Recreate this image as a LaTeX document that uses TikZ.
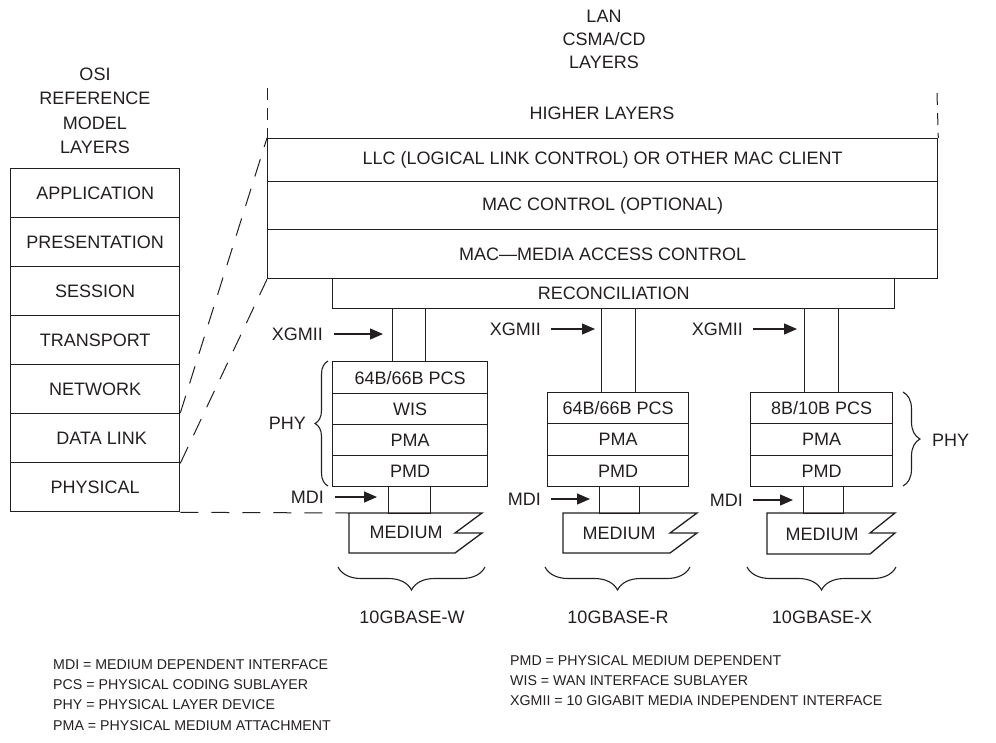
\documentclass[tikz,border=0pt]{standalone}
\usepackage{fontspec}
\setmainfont{Liberation Sans}
\usetikzlibrary{arrows.meta,decorations.pathreplacing}
\definecolor{ink}{HTML}{231F20}
\newcommand\labfont{\fontsize{18}{22}\selectfont}
\newcommand\legfont{\fontsize{14.2}{18}\selectfont}
\begin{document}
\begin{tikzpicture}[x=1pt,y=-1pt,
  box/.style={draw=ink, line width=1.3pt, rectangle, inner sep=0pt, anchor=north west, font=\labfont, text=ink},
  lab/.style={font=\labfont, inner sep=0pt, text=ink},
  leg/.style={font=\legfont, inner sep=0pt, anchor=west, text=ink},
  dsh/.style={draw=ink, line width=1pt, dash pattern=on 18pt off 13pt},
  arr/.style={draw=ink, line width=1.3pt, -{Triangle[length=13pt,width=11pt]}},
  med/.style={draw=ink, line width=1.3pt, line join=miter},
  brc/.style={draw=ink, line width=1.1pt, decorate}
]
\useasboundingbox (0,0) rectangle (996,742);

% OSI title and stack
\node[lab, align=center, font=\fontsize{18}{24.5}\selectfont] (osit) at (95,111) {OSI\\REFERENCE\\MODEL\\LAYERS};
\node[box, minimum width=169pt, minimum height=49pt] (app) at (10,168) {APPLICATION};
\node[box, minimum width=169pt, minimum height=49pt] (pres) at (10,217) {PRESENTATION};
\node[box, minimum width=169pt, minimum height=49pt] (sess) at (10,266) {SESSION};
\node[box, minimum width=169pt, minimum height=49pt] (trans) at (10,315) {TRANSPORT};
\node[box, minimum width=169pt, minimum height=49pt] (net) at (10,364) {NETWORK};
\node[box, minimum width=169pt, minimum height=49pt] (datal) at (10,413) {\hspace*{13pt}DATA LINK};
\node[box, minimum width=169pt, minimum height=49pt] (phys) at (10,462) {PHYSICAL};

% LAN title and stack
\node[lab, align=center, font=\fontsize{18}{23}\selectfont] (lant) at (604,39) {LAN\\CSMA/CD\\LAYERS};
\node[lab] (higher) at (602,113) {HIGHER LAYERS};
\node[box, minimum width=670pt, minimum height=43pt] (llc) at (267,138) {LLC (LOGICAL LINK CONTROL) OR OTHER MAC CLIENT};
\node[box, minimum width=670pt, minimum height=48pt] (macc) at (267,181) {MAC CONTROL (OPTIONAL)};
\node[box, minimum width=670pt, minimum height=49pt] (mac) at (267,229) {MAC—MEDIA ACCESS CONTROL};
\node[box, minimum width=562pt, minimum height=30pt] (rec) at (332,278) {RECONCILIATION};

% XGMII connectors
\node[box, minimum width=33pt, minimum height=53pt] (xc1) at (392,308) {};
\node[box, minimum width=34pt, minimum height=84pt] (xc2) at (601,308) {};
\node[box, minimum width=34pt, minimum height=84pt] (xc3) at (804,308) {};

% PHY stack W
\node[box, minimum width=155pt, minimum height=32pt] (pcsa) at (332,361) {64B/66B PCS};
\node[box, minimum width=155pt, minimum height=31pt] (wis) at (332,393) {WIS};
\node[box, minimum width=155pt, minimum height=31pt] (pmaa) at (332,424) {PMA};
\node[box, minimum width=155pt, minimum height=31pt] (pmda) at (332,455) {PMD};
% PHY stack R
\node[box, minimum width=141pt, minimum height=31pt] (pcsb) at (547,392) {64B/66B PCS};
\node[box, minimum width=141pt, minimum height=32pt] (pmab) at (547,423) {PMA};
\node[box, minimum width=141pt, minimum height=31pt] (pmdb) at (547,455) {PMD};
% PHY stack X
\node[box, minimum width=142pt, minimum height=31pt] (pcsc) at (750,392) {8B/10B PCS};
\node[box, minimum width=142pt, minimum height=32pt] (pmac) at (750,423) {PMA};
\node[box, minimum width=142pt, minimum height=31pt] (pmdc) at (750,455) {PMD};

% MDI connectors
\node[box, minimum width=42pt, minimum height=27pt] (mc1) at (388,486) {};
\node[box, minimum width=40pt, minimum height=27pt] (mc2) at (599,486) {};
\node[box, minimum width=40pt, minimum height=27pt] (mc3) at (803,486) {};

% Media
\coordinate (m1tl) at (349,513);
\draw[med] (m1tl) -- (482,513) -- (455,533) -- (482,533) -- (455,553) -- (349,553) -- cycle;
\node[lab] (med1) at (406,532) {MEDIUM};
\draw[med] (563,513) -- (697,513) -- (670,533) -- (697,533) -- (670,553) -- (563,553) -- cycle;
\node[lab] (med2) at (619,533) {MEDIUM};
\draw[med] (767,513) -- (895,513) -- (870,533) -- (895,533) -- (870,554) -- (767,554) -- cycle;
\node[lab] (med3) at (822,534) {MEDIUM};

% dashed mapping lines
\coordinate (hlL) at (267,88);
\coordinate (hlR) at (937,93);
\draw[dsh, dash pattern=on 12pt off 8pt] (hlL) -- (llc.north west);
\draw[dsh, dash pattern=on 12pt off 8pt] (hlR) -- (llc.north east);
\draw[dsh] (datal.north east) -- (llc.north west);
\draw[dsh] (datal.south east) -- (mac.south west);
\draw[dsh] (phys.south east) -- (m1tl);

% XGMII arrows
\node[lab, anchor=east] (xg1) at (323,334) {XGMII};
\coordinate (xg1t) at (383,334);
\draw[arr, shorten <=11pt] (xg1.east) -- (xg1t);
\node[lab, anchor=east] (xg2) at (541,329) {XGMII};
\coordinate (xg2t) at (595,329);
\draw[arr, shorten <=10pt] (xg2.east) -- (xg2t);
\node[lab, anchor=east] (xg3) at (743,329) {XGMII};
\coordinate (xg3t) at (797,329);
\draw[arr, shorten <=10pt] (xg3.east) -- (xg3t);

% MDI arrows
\node[lab, anchor=east] (mdi1) at (324,497) {MDI};
\coordinate (mdi1t) at (377,497);
\draw[arr, shorten <=11pt] (mdi1.east) -- (mdi1t);
\node[lab, anchor=east] (mdi2) at (541,499) {MDI};
\coordinate (mdi2t) at (590,499);
\draw[arr, shorten <=10pt] (mdi2.east) -- (mdi2t);
\node[lab, anchor=east] (mdi3) at (743,500) {MDI};
\coordinate (mdi3t) at (793,500);
\draw[arr, shorten <=10pt] (mdi3.east) -- (mdi3t);

% PHY braces
\draw[brc, decoration={brace, amplitude=13pt}] (328,486) -- (328,361);
\node[lab, anchor=east] (phy1) at (306,423) {PHY};
\draw[brc, decoration={brace, amplitude=17pt}] (903,392) -- (903,486);
\node[lab, anchor=west] (phy2) at (932,440) {PHY};

% bottom braces
\draw[brc, decoration={brace, amplitude=23pt}] (485,567) -- (338,567);
\node[lab] (w) at (412,617) {10GBASE-W};
\draw[brc, decoration={brace, amplitude=23pt}] (690,567) -- (545,567);
\node[lab] (r) at (618,617) {10GBASE-R};
\draw[brc, decoration={brace, amplitude=23pt}] (896,567) -- (747,567);
\node[lab] (x) at (822,617) {10GBASE-X};

% legend
\node[leg] (l1) at (53,665) {MDI = MEDIUM DEPENDENT INTERFACE};
\node[leg] (l2) at (53,685) {PCS = PHYSICAL CODING SUBLAYER};
\node[leg] (l3) at (53,705) {PHY = PHYSICAL LAYER DEVICE};
\node[leg] (l4) at (53,726) {PMA = PHYSICAL MEDIUM ATTACHMENT};
\node[leg] (l5) at (510,661) {PMD = PHYSICAL MEDIUM DEPENDENT};
\node[leg] (l6) at (510,681) {WIS = WAN INTERFACE SUBLAYER};
\node[leg] (l7) at (510,701) {XGMII = 10 GIGABIT MEDIA INDEPENDENT INTERFACE};
\end{tikzpicture}
\end{document}
